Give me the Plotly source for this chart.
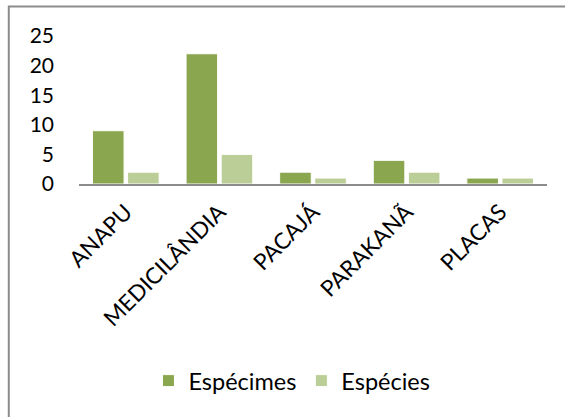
import plotly.graph_objects as go

# Localidades e contagens
localidades = ["ANAPU", "MEDICILÂNDIA", "PACAJÁ", "PARAKANÃ", "PLACAS"]
especimes = [9, 22, 2, 4, 1]
especies = [2, 5, 1, 2, 1]
y_ticks = [0, 5, 10, 15, 20, 25]

FONT = "Lato"

fig = go.Figure()
fig.add_trace(go.Bar(
    x=localidades, y=especimes, name="Espécimes",
    marker=dict(color="#8aa64e", line=dict(color="#ffffff", width=1)),
))
fig.add_trace(go.Bar(
    x=localidades, y=especies, name="Espécies",
    marker=dict(color="#bbce97", line=dict(color="#ffffff", width=1)),
))

# moldura do gráfico
fig.add_shape(type="rect", xref="paper", yref="paper",
              x0=-0.15, x1=1.2, y0=-2.0, y1=1.2,
              line=dict(color="#8c8c8c", width=2), layer="below")

fig.update_layout(
    width=565, height=417,
    margin=dict(l=79, r=18, t=36, b=233),
    paper_bgcolor="white", plot_bgcolor="white",
    barmode="group", bargap=0.25, bargroupgap=0.1,
    font=dict(family=FONT, size=21, color="#000000"),
    showlegend=True,
    legend=dict(orientation="h", x=0.455, xanchor="center",
                y=-1.33, yanchor="middle",
                font=dict(family=FONT, size=23.5),
                itemwidth=30, tracegroupgap=0),
    xaxis=dict(
        tickangle=-45, showgrid=False, zeroline=False,
        showline=True, linecolor="#8c8c8c", linewidth=2,
        ticks="", ticklabelstandoff=4,
        tickfont=dict(family=FONT, size=22.5),
    ),
    yaxis=dict(
        range=[0, 25], tickvals=y_ticks, showgrid=False,
        zeroline=False, showline=False, ticks="",
        ticklabelstandoff=24,
        tickfont=dict(family=FONT, size=21),
    ),
)

fig.write_html("out.html")
